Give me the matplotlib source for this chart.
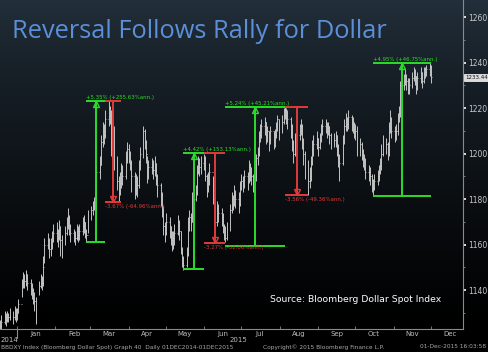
import numpy as np
import pandas as pd
import matplotlib
matplotlib.use('Agg')
import matplotlib.pyplot as plt
import matplotlib.dates as mdates
import matplotlib.transforms as mtrans
from matplotlib.colors import LinearSegmentedColormap

# daily bars, 18 Dec 2014 .. 01 Dec 2015 (one entry per business day)
highs = [
    1127, 1129, 1131, 1130, 1131, 1130, 1132, 1131, 1133, 1132,  # Dec
    1132, 1136, 1145, 1148, 1147, 1149, 1147, 1145, 1143, 1141, 1139, 1137, 1144, 1147, 1146, 1155, 1163, 1165, 1163, 1163, 1166, 1169,  # Jan
    1170, 1167, 1171, 1168, 1164, 1168, 1172, 1176, 1173, 1169, 1167, 1166, 1169, 1168, 1169, 1172, 1173, 1170, 1167, 1175,  # Feb
    1177, 1179, 1181, 1183, 1195, 1199, 1208, 1214, 1213, 1219, 1223, 1221, 1219, 1214, 1212, 1199, 1190, 1192, 1196, 1195, 1201, 1205,  # Mar
    1204, 1201, 1197, 1192, 1191, 1190, 1197, 1203, 1212, 1211, 1206, 1199, 1197, 1198, 1197, 1199, 1196, 1191, 1187, 1183, 1177, 1170,  # Apr
    1174, 1172, 1168, 1166, 1166, 1169, 1173, 1171, 1166, 1159, 1155, 1159, 1172, 1175, 1174, 1183, 1186, 1195, 1199, 1198, 1199,  # May
    1200, 1199, 1191, 1192, 1196, 1190, 1182, 1177, 1179, 1178, 1176, 1174, 1169, 1168, 1170, 1178, 1183, 1182, 1186, 1184, 1183, 1188,  # Jun
    1191, 1190, 1193, 1192, 1197, 1196, 1194, 1191, 1200, 1203, 1210, 1213, 1215, 1216, 1214, 1212, 1210, 1212, 1210, 1211, 1214, 1217, 1215,  # Jul
    1217, 1220, 1221, 1220, 1219, 1216, 1213, 1206, 1209, 1211, 1213, 1215, 1213, 1207, 1201, 1197, 1194, 1199, 1206, 1208, 1210,  # Aug
    1207, 1209, 1213, 1215, 1215, 1214, 1214, 1212, 1209, 1209, 1210, 1208, 1204, 1200, 1208, 1215, 1218, 1216, 1219, 1217, 1216, 1214,  # Sep
    1213, 1212, 1207, 1205, 1202, 1200, 1198, 1195, 1194, 1191, 1189, 1191, 1193, 1195, 1198, 1204, 1208, 1207, 1205, 1214, 1219, 1216,  # Oct
    1212, 1213, 1218, 1221, 1232, 1235, 1237, 1235, 1233, 1233, 1236, 1238, 1237, 1234, 1236, 1238, 1236, 1238, 1238, 1239, 1240,  # Nov
    1239,  # Dec
]
lows = [
    1121, 1123, 1125, 1124, 1126, 1126, 1127, 1125, 1127, 1126,
    1127, 1130, 1137, 1141, 1141, 1142, 1140, 1138, 1136, 1134, 1131, 1125, 1138, 1141, 1140, 1142, 1152, 1158, 1154, 1155, 1158, 1161,
    1161, 1159, 1162, 1155, 1154, 1160, 1164, 1167, 1164, 1161, 1161, 1160, 1162, 1161, 1162, 1164, 1165, 1163, 1161, 1165,
    1171, 1173, 1175, 1177, 1179, 1189, 1195, 1203, 1204, 1207, 1212, 1213, 1199, 1197, 1193, 1184, 1179, 1182, 1185, 1186, 1189, 1196,
    1196, 1193, 1183, 1180, 1182, 1181, 1185, 1193, 1198, 1202, 1196, 1187, 1189, 1191, 1189, 1190, 1186, 1181, 1177, 1172, 1164, 1161,
    1164, 1163, 1160, 1157, 1158, 1160, 1164, 1162, 1156, 1150, 1149, 1150, 1155, 1166, 1166, 1170, 1179, 1182, 1191, 1190, 1191,
    1193, 1188, 1181, 1183, 1186, 1178, 1172, 1167, 1168, 1170, 1168, 1165, 1162, 1161, 1162, 1166, 1174, 1175, 1177, 1176, 1174, 1177,
    1184, 1183, 1185, 1184, 1187, 1188, 1186, 1183, 1188, 1195, 1199, 1205, 1207, 1208, 1204, 1205, 1201, 1204, 1202, 1203, 1207, 1210, 1206,
    1209, 1213, 1215, 1213, 1211, 1207, 1201, 1196, 1199, 1204, 1206, 1208, 1202, 1195, 1189, 1182, 1185, 1188, 1195, 1199, 1202,
    1199, 1202, 1205, 1208, 1209, 1207, 1208, 1204, 1202, 1203, 1203, 1199, 1194, 1188, 1195, 1204, 1210, 1210, 1211, 1210, 1209, 1207,
    1206, 1199, 1199, 1197, 1194, 1193, 1189, 1188, 1186, 1183, 1182, 1184, 1186, 1188, 1191, 1193, 1199, 1200, 1197, 1199, 1209, 1207,
    1205, 1206, 1208, 1214, 1216, 1228, 1230, 1228, 1226, 1226, 1229, 1232, 1230, 1226, 1228, 1231, 1229, 1231, 1233, 1234, 1234,
    1231,
]
closes = [
    1124, 1126, 1128, 1127, 1129, 1128, 1130, 1128, 1131, 1129,
    1130, 1134, 1143, 1145, 1144, 1147, 1143, 1142, 1140, 1138, 1135, 1134, 1142, 1145, 1143, 1150, 1160, 1162, 1158, 1160, 1163, 1165,
    1166, 1163, 1168, 1162, 1160, 1165, 1168, 1172, 1168, 1165, 1164, 1163, 1166, 1164, 1166, 1168, 1170, 1166, 1164, 1172,
    1175, 1177, 1179, 1180, 1192, 1195, 1205, 1210, 1208, 1215, 1220, 1217, 1205, 1210, 1198, 1188, 1184, 1187, 1192, 1190, 1198, 1202,
    1200, 1196, 1190, 1184, 1188, 1186, 1195, 1200, 1210, 1205, 1200, 1192, 1194, 1195, 1193, 1196, 1190, 1186, 1182, 1176, 1168, 1165,
    1170, 1168, 1162, 1160, 1163, 1165, 1170, 1166, 1158, 1152, 1151, 1156, 1170, 1172, 1170, 1180, 1183, 1192, 1196, 1194, 1196,
    1198, 1190, 1185, 1188, 1192, 1180, 1175, 1170, 1176, 1174, 1172, 1168, 1164, 1163, 1166, 1175, 1180, 1178, 1182, 1180, 1178, 1185,
    1188, 1186, 1190, 1188, 1194, 1192, 1190, 1186, 1198, 1200, 1208, 1210, 1212, 1214, 1208, 1210, 1206, 1210, 1206, 1208, 1212, 1215, 1210,
    1214, 1217, 1219, 1217, 1215, 1212, 1205, 1200, 1206, 1208, 1210, 1212, 1206, 1200, 1194, 1188, 1190, 1196, 1202, 1204, 1207,
    1203, 1206, 1210, 1212, 1213, 1210, 1212, 1208, 1206, 1206, 1208, 1203, 1198, 1196, 1205, 1212, 1215, 1213, 1216, 1214, 1213, 1211,
    1210, 1202, 1204, 1200, 1198, 1197, 1192, 1192, 1190, 1186, 1185, 1188, 1190, 1192, 1195, 1200, 1203, 1204, 1200, 1212, 1215, 1210,
    1208, 1210, 1216, 1218, 1230, 1232, 1234, 1232, 1228, 1230, 1233, 1236, 1234, 1229, 1233, 1236, 1232, 1235, 1236, 1237, 1238,
    1233.44,
]
last_price = 1233.44

# move annotations: start, end, from value, to value, label
ann_start = ['2015-02-26', '2015-03-13', '2015-05-15', '2015-06-01', '2015-06-18', '2015-08-05', '2015-10-15']
ann_end = ['2015-03-13', '2015-03-26', '2015-06-01', '2015-06-18', '2015-08-05', '2015-08-24', '2015-12-01']
ann_from = [1161.0, 1223.0, 1149.2, 1200.2, 1159.4, 1220.4, 1181.2]
ann_to = [1223.0, 1178.7, 1200.2, 1160.7, 1220.4, 1182.0, 1239.8]
ann_text = ['+5.35% (+255.63%ann.)', '-3.67% (-64.96%ann.)', '+4.42% (+153.13%ann.)',
            '-3.27% (-52.06%ann.)', '+5.24% (+45.21%ann.)', '-3.56% (-49.36%ann.)',
            '+4.95% (+46.75%ann.)']

dates = pd.bdate_range('2014-12-18', '2015-12-01')
assert len(dates) == len(highs) == len(lows) == len(closes)
xd = mdates.date2num(dates.to_pydatetime())
opens = [closes[0]] + closes[:-1]

fig = plt.figure(figsize=(4.88, 3.52), dpi=100)

# background gradient
bg = fig.add_axes([0, 0, 1, 1], zorder=0)
t = np.linspace(0, 1, 300)
g = np.clip(t / 0.92, 0, 1) ** 0.75
cmap = LinearSegmentedColormap.from_list('bb', ['#23303b', '#000000'])
bg.imshow(g.reshape(-1, 1), aspect='auto', cmap=cmap, extent=[0, 1, 0, 1], vmin=0, vmax=1)
bg.axis('off')

ax = fig.add_axes([0, 23 / 352, 463 / 488, 329 / 352], zorder=1)
ax.set_facecolor('none')

ax.vlines(xd, lows, highs, color='#cfcfcf', lw=0.65)
ax.hlines(opens, xd - 0.6, xd, color='#cfcfcf', lw=0.55)
ax.hlines(closes, xd, xd + 0.6, color='#cfcfcf', lw=0.55)

for s, e, v0, v1, txt in zip(ann_start, ann_end, ann_from, ann_to, ann_text):
    s = mdates.datestr2num(s)
    e = mdates.datestr2num(e)
    m = (s + e) / 2
    up = v1 > v0
    col = '#2bdc2b' if up else '#e23a3a'
    ax.hlines([v0, v1], s, e, color=col, lw=1.4)
    ax.vlines(m, v0, v1, color=col, lw=1.4)
    ax.plot(m, v1 - 1.2 if up else v1 + 1.2, marker='^' if up else 'v', ms=4,
            mfc='none', mec=col, mew=1)
    if up:
        ax.text(s, v1 + 0.5, txt, color=col, fontsize=3.9, va='bottom', ha='left')
    else:
        ax.text(s, v1 - 1.0, txt, color=col, fontsize=3.9, va='top', ha='left')

ax.set_xlim(mdates.datestr2num('2014-12-18 06:00'), mdates.datestr2num('2015-12-26 18:00'))
ax.set_ylim(1122.9, 1267.5)

for sp in ['left', 'top']:
    ax.spines[sp].set_visible(False)
for sp in ['right', 'bottom']:
    ax.spines[sp].set_color('#8a8a8a')
    ax.spines[sp].set_linewidth(0.8)

ax.yaxis.tick_right()
ax.set_yticks([1140, 1160, 1180, 1200, 1220, 1240, 1260])
ax.set_yticks(np.arange(1130, 1270, 10), minor=True)
ax.tick_params(axis='y', which='major', direction='out', length=2.5, width=1.2,
               color='white', labelsize=5.5, labelcolor='#c8c8c8', pad=1.5)
ax.tick_params(axis='y', which='minor', direction='out', length=1.2, width=0.6, color='#8a8a8a')

ax.xaxis.set_major_locator(mdates.MonthLocator())
ax.xaxis.set_major_formatter(plt.NullFormatter())
ax.xaxis.set_minor_locator(mdates.MonthLocator(bymonthday=16))
ax.xaxis.set_minor_formatter(mdates.DateFormatter('%b'))
ax.tick_params(axis='x', which='major', direction='in', length=2, width=0.6, color='#8a8a8a')
ax.tick_params(axis='x', which='minor', length=0, labelsize=5, labelcolor='#bdbdbd', pad=1.5)

# year separator
tr = mtrans.blended_transform_factory(ax.transData, ax.transAxes)
jan1 = mdates.datestr2num('2015-01-01')
ax.plot([jan1, jan1], [0, -0.028], transform=tr, color='#8a8a8a', lw=0.8, clip_on=False)

# last price tag
ax.text(1.005, last_price, '%.2f' % last_price, transform=mtrans.blended_transform_factory(ax.transAxes, ax.transData),
        fontsize=4.0, color='#111111', va='center', ha='left',
        bbox=dict(boxstyle='square,pad=0.15', fc='#dcdcdc', ec='white', lw=0.5))

fig.text(12 / 488, 1 - 32 / 352, 'Reversal Follows Rally for Dollar', color='#5b8fd9',
         fontsize=18.3, family='Open Sans', va='center', ha='left')
fig.text(270 / 488, 1 - 300 / 352, 'Source: Bloomberg Dollar Spot Index', color='white',
         fontsize=6.7, va='center', ha='left')

fig.text(1 / 488, 1 - 340 / 352, '2014', color='#bdbdbd', fontsize=5, va='center', ha='left')
fig.text(247 / 488, 1 - 340 / 352, '2015', color='#bdbdbd', fontsize=5, va='center', ha='right')
fig.text(1 / 488, 1 - 347 / 352, 'BBDXY Index (Bloomberg Dollar Spot) Graph 40  Daily 01DEC2014-01DEC2015',
         color='#a8a8a8', fontsize=4.2, va='center', ha='left')
fig.text(263 / 488, 1 - 347 / 352, 'Copyright\u00a9 2015 Bloomberg Finance L.P.',
         color='#a8a8a8', fontsize=4.2, va='center', ha='left')
fig.text(486 / 488, 1 - 347 / 352, '01-Dec-2015 16:03:58',
         color='#a8a8a8', fontsize=4.2, va='center', ha='right')

fig.savefig('out.png', dpi=100, facecolor='black')
